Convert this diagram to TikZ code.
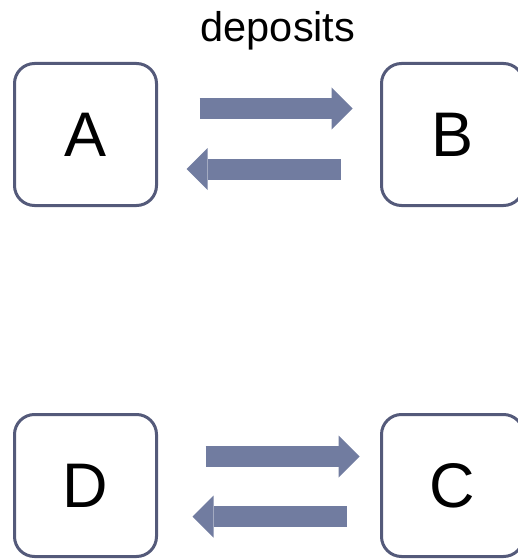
\documentclass[tikz,border=0pt]{standalone}
\usepackage{fontspec}
\setmainfont{Liberation Sans}
\usetikzlibrary{arrows.meta}
\definecolor{boxline}{RGB}{84,90,122}
\definecolor{flowblue}{RGB}{113,124,160}
\begin{document}
\begin{tikzpicture}[x=1pt,y=-1pt,
  acct/.style={draw=boxline, line width=3pt, rounded corners=20pt,
    minimum width=142pt, minimum height=142pt, inner sep=0pt,
    font=\fontsize{63}{63}\selectfont},
  bigflow/.style={draw=flowblue, line width=21pt,
    -{Triangle[length=21pt, width=42pt, line width=0pt]}}]
\useasboundingbox (0,0) rectangle (517,559);

\node[acct] (A) at (85.5, 134.5) {A};
\node[acct] (B) at (452.5, 134.5) {B};
\node[acct] (D) at (85.5, 485.5) {D};
\node[acct] (C) at (452.5, 485.5) {C};

\node[anchor=base, font=\fontsize{41.5}{41.5}\selectfont] (dep) at (278, 42) {deposits};

% top pair
\draw[bigflow] ([shift={(41.5,-26)}]A.east) -- ([shift={(-27.5,-26)}]B.west);
\draw[bigflow] ([shift={(-39.5,34.5)}]B.west) -- ([shift={(28.5,34.5)}]A.east);
% bottom pair
\draw[bigflow] ([shift={(47.5,-29)}]D.east) -- ([shift={(-20.5,-29)}]C.west);
\draw[bigflow] ([shift={(-33.5,31)}]C.west) -- ([shift={(34.5,31)}]D.east);
\end{tikzpicture}
\end{document}
